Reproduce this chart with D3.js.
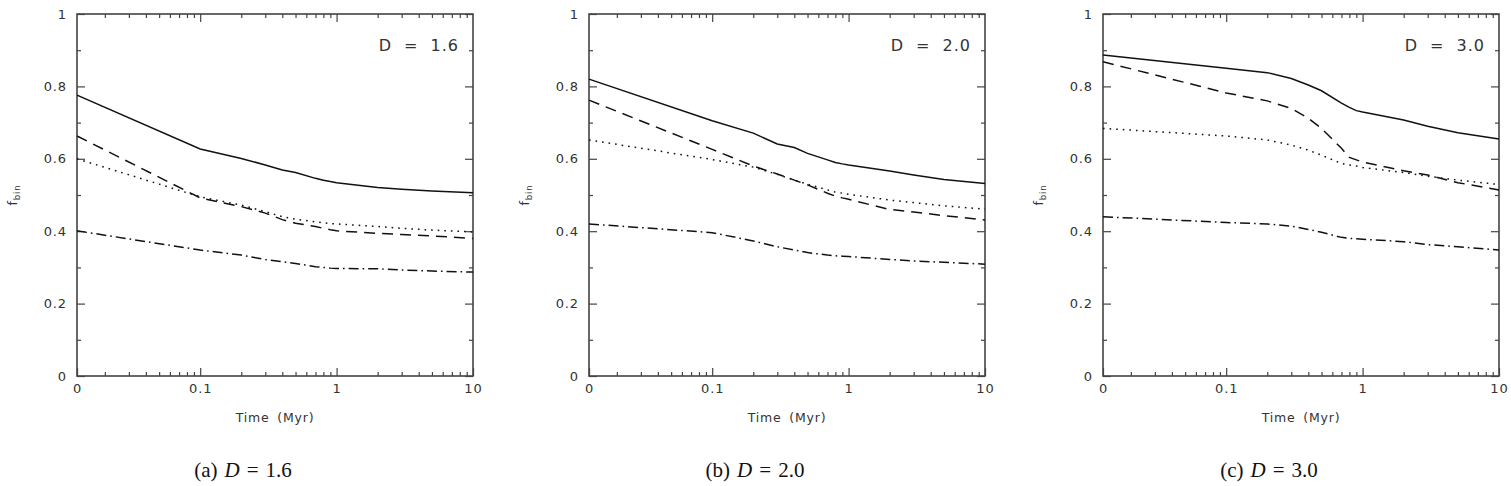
<!DOCTYPE html>
<head>
<meta charset="utf-8">
<script src="https://d3js.org/d3.v7.min.js"></script>
<style>
body { margin: 0; background: white; }
.tick text { font-family: 'DejaVu Sans', sans-serif; font-size: 13px; fill: #333; letter-spacing: 0.9px; }
.tick line { stroke: #444; stroke-width: 1.2; }
.frame { fill: none; stroke: #444; stroke-width: 1.6; }
.curve { fill: none; stroke: #111; stroke-width: 1.5; }
.axlabel { font-family: 'DejaVu Sans', sans-serif; font-size: 12.5px; fill: #333; letter-spacing: 0.8px; word-spacing: 3px; }
.dlabel { font-family: 'DejaVu Sans', sans-serif; font-size: 16px; fill: #333; letter-spacing: 1px; word-spacing: 6px; }
.caption { font-family: 'Liberation Serif', 'DejaVu Serif', serif; font-size: 21px; fill: #111; }
</style>
</head>
<body>
<div id="chart"></div>
<script>

// time samples (Myr); 0 is drawn at the left edge of the log axis
var times = [0, 0.1, 0.2, 0.3, 0.4, 0.5, 0.7, 0.8, 0.9, 1, 2, 3, 5, 10];

// panel (a) D = 1.6
var solidA   = [0.776, 0.627, 0.601, 0.583, 0.569, 0.562, 0.546, 0.541, 0.537, 0.534, 0.521, 0.516, 0.511, 0.506];
var dashedA  = [0.663, 0.492, 0.468, 0.450, 0.432, 0.422, 0.413, 0.408, 0.404, 0.401, 0.394, 0.391, 0.387, 0.380];
var dottedA  = [0.600, 0.495, 0.472, 0.454, 0.440, 0.433, 0.426, 0.423, 0.421, 0.420, 0.413, 0.408, 0.403, 0.398];
var dashdotA = [0.401, 0.348, 0.334, 0.322, 0.316, 0.311, 0.302, 0.300, 0.298, 0.297, 0.296, 0.293, 0.290, 0.287];

// panel (b) D = 2.0
var solidB   = [0.820, 0.705, 0.671, 0.641, 0.631, 0.615, 0.597, 0.590, 0.586, 0.583, 0.566, 0.555, 0.543, 0.532];
var dashedB  = [0.762, 0.626, 0.580, 0.558, 0.541, 0.528, 0.505, 0.497, 0.492, 0.488, 0.460, 0.453, 0.443, 0.431];
var dottedB  = [0.652, 0.598, 0.577, 0.557, 0.541, 0.530, 0.514, 0.508, 0.505, 0.502, 0.486, 0.479, 0.470, 0.461];
var dashdotB = [0.420, 0.396, 0.373, 0.357, 0.348, 0.341, 0.334, 0.332, 0.331, 0.330, 0.322, 0.318, 0.314, 0.309];

// panel (c) D = 3.0
var solidC   = [0.887, 0.850, 0.838, 0.822, 0.804, 0.788, 0.754, 0.742, 0.733, 0.729, 0.707, 0.690, 0.672, 0.655];
var dashedC  = [0.868, 0.782, 0.760, 0.739, 0.712, 0.684, 0.629, 0.604, 0.597, 0.591, 0.567, 0.555, 0.534, 0.514];
var dottedC  = [0.684, 0.663, 0.652, 0.638, 0.624, 0.610, 0.587, 0.583, 0.580, 0.576, 0.562, 0.552, 0.541, 0.529];
var dashdotC = [0.440, 0.424, 0.420, 0.414, 0.405, 0.397, 0.383, 0.380, 0.379, 0.378, 0.371, 0.363, 0.357, 0.348];

var dValues = ["1.6", "2.0", "3.0"];
var captionLetters = ["(a)", "(b)", "(c)"];
var yTicks = [0, 0.2, 0.4, 0.6, 0.8, 1];
var yMinor = [0.1, 0.3, 0.5, 0.7, 0.9];
var xMajor = [0.1, 1];
var xTickLabels = [0.0125, 0.1, 1, 10];

var panels = [
  {series: [solidA, dashedA, dottedA, dashdotA], left: 77},
  {series: [solidB, dashedB, dottedB, dashdotB], left: 589},
  {series: [solidC, dashedC, dottedC, dashdotC], left: 1103}
];
var dashes = [null, "11,7", "1.6,5", "10,4,1.6,4"];

var plotTop = 14, width = 396, height = 362;
var tMin = 0.0125;

var svg = d3.select("#chart").append("svg")
    .attr("width", 1511)
    .attr("height", 486);

var x = d3.scaleLog().domain([tMin, 10]).range([0, width]);
var y = d3.scaleLinear().domain([0, 1]).range([height, 0]);

// minor ticks of the log axis: 2..9 times each decade
var xMinor = [];
[0.01, 0.1, 1].forEach(function(dec) {
  for (var k = 2; k <= 9; k++) {
    var v = dec * k;
    if (v > tMin) xMinor.push(v);
  }
});

panels.forEach(function(p, i) {
  var g = svg.append("g")
      .attr("transform", "translate(" + p.left + "," + plotTop + ")");

  // ticks, all pointing inward
  g.append("g").attr("transform", "translate(0," + height + ")")
      .call(d3.axisBottom(x).tickValues(xTickLabels).tickSizeInner(-8).tickSizeOuter(0).tickPadding(8)
        .tickFormat(function(d) { return d < 0.05 ? "0" : d3.format("~g")(d); }));
  g.append("g").attr("transform", "translate(0," + height + ")")
      .call(d3.axisBottom(x).tickValues(xMinor).tickSizeInner(-4).tickSizeOuter(0).tickFormat(""));
  g.append("g")
      .call(d3.axisTop(x).tickValues(xMajor).tickSizeInner(-8).tickSizeOuter(0).tickFormat(""));
  g.append("g")
      .call(d3.axisTop(x).tickValues(xMinor).tickSizeInner(-4).tickSizeOuter(0).tickFormat(""));

  g.append("g")
      .call(d3.axisLeft(y).tickValues(yTicks).tickSizeInner(-8).tickSizeOuter(0).tickPadding(10)
        .tickFormat(d3.format("~g")));
  g.append("g")
      .call(d3.axisLeft(y).tickValues(yMinor).tickSizeInner(-4).tickSizeOuter(0).tickFormat(""));
  g.append("g").attr("transform", "translate(" + width + ",0)")
      .call(d3.axisRight(y).tickValues(yTicks).tickSizeInner(-8).tickSizeOuter(0).tickFormat(""));
  g.append("g").attr("transform", "translate(" + width + ",0)")
      .call(d3.axisRight(y).tickValues(yMinor).tickSizeInner(-4).tickSizeOuter(0).tickFormat(""));

  g.selectAll(".domain").remove();

  g.append("rect")
      .attr("class", "frame")
      .attr("width", width)
      .attr("height", height);

  var line = d3.line()
      .x(function(d, j) { return x(Math.max(times[j], tMin)); })
      .y(function(d) { return y(d); });

  p.series.forEach(function(s, k) {
    g.append("path")
        .datum(s)
        .attr("class", "curve")
        .attr("d", line)
        .attr("stroke-dasharray", dashes[k]);
  });

  g.append("text")
      .attr("class", "dlabel")
      .attr("x", width - 14)
      .attr("y", 37)
      .attr("text-anchor", "end")
      .text("D = " + dValues[i]);

  g.append("text")
      .attr("class", "axlabel")
      .attr("x", width / 2)
      .attr("y", height + 46)
      .attr("text-anchor", "middle")
      .text("Time (Myr)");

  var yl = g.append("text")
      .attr("class", "axlabel")
      .attr("transform", "translate(-60," + (height / 2) + ") rotate(-90)")
      .attr("text-anchor", "middle");
  yl.append("tspan").text("f");
  yl.append("tspan").attr("dy", 3).attr("font-size", "8.5px").text("bin");

  var cap = g.append("text")
      .attr("class", "caption")
      .attr("x", width / 2 - 32)
      .attr("y", height + 101)
      .attr("text-anchor", "middle");
  cap.append("tspan").text(captionLetters[i]);
  cap.append("tspan").attr("dx", 7).attr("font-style", "italic").text("D");
  cap.append("tspan").attr("dx", 7).text("=");
  cap.append("tspan").attr("dx", 7).text(dValues[i]);
});

</script>
</body>
